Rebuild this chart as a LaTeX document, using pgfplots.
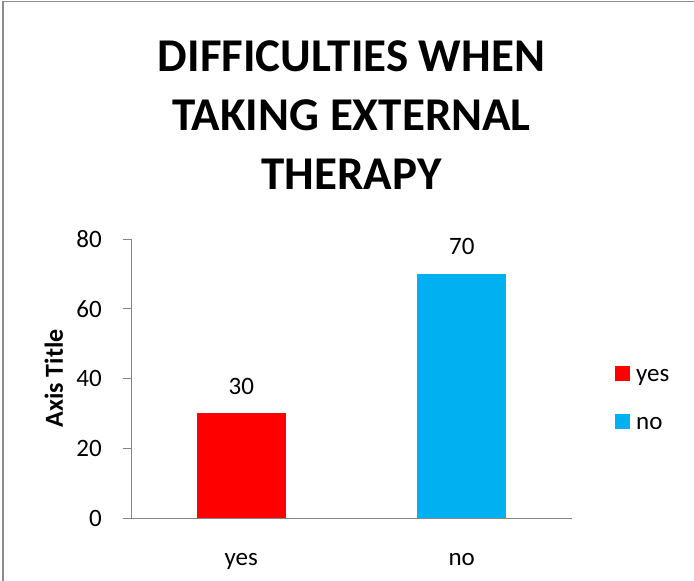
\documentclass[border=0pt]{standalone}
\usepackage{pgfplots}
\pgfplotsset{compat=1.18}
\usepackage{fontspec}
\setmainfont{Carlito}
\definecolor{barred}{HTML}{FF0000}
\definecolor{barblue}{HTML}{00B0F0}
\definecolor{axgray}{HTML}{868686}
\definecolor{framegray}{HTML}{8C8C8C}
\begin{document}
\begin{tikzpicture}
\useasboundingbox (0,0) rectangle (694bp,-581bp);
\draw[framegray, line width=1.5bp] (3bp,-581bp) -- (3bp,-1.5bp) -- (694bp,-1.5bp);
\begin{axis}[
  at={(131bp,-518bp)}, anchor=south west,
  scale only axis, width=441bp, height=279bp,
  ybar, bar width=89bp, bar shift=0pt,
  xmin=-0.5, xmax=1.5, ymin=0, ymax=80,
  xtick={0,1}, xticklabels={yes,no},
  ytick={0,20,40,60,80},
  axis lines*=left,
  axis line style={axgray, line width=1bp},
  tick align=outside,
  major tick length=8bp,
  ytick style={axgray, line width=1bp},
  xtick style={draw=none},
  /pgf/number format/assume math mode=true,
  yticklabel style={font=\fontsize{25bp}{29bp}\selectfont, anchor=east, inner sep=0pt, xshift=-21bp},
  xticklabel style={font=\fontsize{25bp}{29bp}\selectfont, anchor=base, inner sep=0pt, yshift=-39bp},
  title={DIFFICULTIES WHEN\\TAKING EXTERNAL\\THERAPY},
  title style={font=\bfseries\fontsize{47bp}{59bp}\selectfont, align=center, at={(axis description cs:0.5,1)}, anchor=south, inner sep=0pt, yshift=43bp},
  ylabel={Axis Title},
  every axis y label/.style={at={(axis description cs:-0.1542,0.5)}, rotate=90, anchor=base, inner sep=0pt, font=\bfseries\fontsize{26bp}{30bp}\selectfont},
  nodes near coords,
  every node near coord/.append style={font=\fontsize{25bp}{29bp}\selectfont, inner sep=0pt, anchor=south, yshift=19bp, text=black},
  legend style={at={(axis description cs:1.0975,0.5448)}, anchor=north west, draw=none, fill=none, inner sep=0pt, row sep=28bp, column sep=6bp, font=\fontsize{25bp}{29bp}\selectfont, nodes={inner sep=0pt, text height=15bp, text depth=5bp, anchor=base west}},
  legend cell align=left,
]
\addplot[fill=barred, draw=none, legend image code/.code={\fill[barred] (0bp,0bp) rectangle (15bp,15bp);}] coordinates {(0,30)};
\addlegendentry{yes}
\addplot[fill=barblue, draw=none, legend image code/.code={\fill[barblue] (0bp,0bp) rectangle (15bp,15bp);}] coordinates {(1,70)};
\addlegendentry{no}
\end{axis}
\end{tikzpicture}
\end{document}
